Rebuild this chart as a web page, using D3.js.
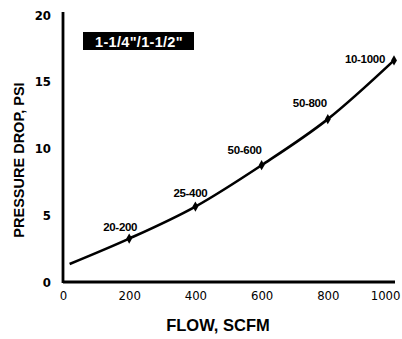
<!DOCTYPE html>
<html><head><meta charset="utf-8">
<script src="https://cdn.jsdelivr.net/npm/d3@7"></script>
<style>
html,body{margin:0;padding:0;background:#fff;}
svg{display:block;}
</style></head>
<body>
<svg id="chart" width="402" height="339"></svg>
<script>
const flow = [20, 200, 400, 600, 800, 1000];
const pressure = [1.35, 3.25, 5.65, 8.75, 12.2, 16.6];
const markerFlows = [200, 400, 600, 800, 1000];
const markerLabels = ["20-200", "25-400", "50-600", "50-800", "10-1000"];
const xTicks = [0, 200, 400, 600, 800, 1000];
const yTicks = [0, 5, 10, 15, 20];
const title = "1-1/4\"/1-1/2\"";
const xTitle = "FLOW, SCFM";
const yTitle = "PRESSURE DROP, PSI";

const svg = d3.select("#chart");
const x = d3.scaleLinear().domain([0, 1000]).range([63, 394]);
const y = d3.scaleLinear().domain([0, 20]).range([282, 15]);

const narrow = "'DejaVu Sans Condensed','DejaVu Sans',sans-serif";
const bold = "'Liberation Sans',Arial,sans-serif";

// axes
const xAxis = svg.append("g").attr("transform", "translate(0,282)")
  .call(d3.axisBottom(x).tickValues(xTicks).tickSize(0).tickPadding(9).tickFormat(d3.format("d")));
xAxis.select(".domain").attr("stroke", "#000").attr("stroke-width", 2.8)
  .attr("d", `M${x(0)},0H${x(1000)+1}`);
xAxis.selectAll("text").attr("font-family", narrow).attr("font-stretch", "condensed")
  .attr("font-size", 13).attr("fill", "#000");
xAxis.selectAll(".tick").filter(d => d === 1000).select("text")
  .attr("text-anchor", "end").attr("x", 400 - x(1000));

const yAxis = svg.append("g").attr("transform", "translate(63,0)")
  .call(d3.axisLeft(y).tickValues(yTicks).tickSize(0).tickPadding(12));
yAxis.select(".domain").attr("stroke", "#000").attr("stroke-width", 2.8)
  .attr("d", `M0,12V${y(0)+1}`);
yAxis.selectAll("text").attr("font-family", narrow).attr("font-stretch", "condensed")
  .attr("font-size", 13).attr("fill", "#000").attr("font-weight", "bold");

// curve
const pts = flow.map((f, i) => [f, pressure[i]]);
const line = d3.line().x(d => x(d[0])).y(d => y(d[1])).curve(d3.curveMonotoneX);
svg.append("path").datum(pts).attr("d", line).attr("fill", "none")
  .attr("stroke", "#000").attr("stroke-width", 2.6);

// markers
const markers = markerFlows.map((f, i) => ({f, v: pressure[flow.indexOf(f)], label: markerLabels[i]}));
svg.selectAll("path.mk").data(markers).join("path").attr("class", "mk")
  .attr("d", d3.symbol().type(d3.symbolDiamond).size(30))
  .attr("transform", d => `translate(${x(d.f)},${y(d.v)})`).attr("fill", "#000");

const labelOff = [[8, -8], [12, -10], [0, -11], [-1, -12], [-9, 3]];
svg.selectAll("text.lbl").data(markers).join("text").attr("class", "lbl")
  .attr("x", (d, i) => x(d.f) + labelOff[i][0]).attr("y", (d, i) => y(d.v) + labelOff[i][1])
  .attr("text-anchor", "end").attr("font-family", bold).attr("font-weight", "bold")
  .attr("font-size", 11.5).attr("fill", "#000").attr("letter-spacing", -0.3).text(d => d.label);

// title box
const tg = svg.append("g");
tg.append("rect").attr("x", 83).attr("y", 32).attr("width", 111).attr("height", 18).attr("fill", "#000");
tg.append("text").attr("x", 139).attr("y", 46.5).attr("text-anchor", "middle")
  .attr("font-family", bold).attr("font-weight", "bold").attr("font-size", 14.5)
  .attr("letter-spacing", 0.3).attr("fill", "#fff").text(title);

// axis titles
svg.append("text").attr("x", 218).attr("y", 331).attr("text-anchor", "middle")
  .attr("font-family", bold).attr("font-weight", "bold").attr("font-size", 16.5).text(xTitle);
svg.append("text").attr("transform", "translate(24,160) rotate(-90)").attr("text-anchor", "middle")
  .attr("font-family", bold).attr("font-weight", "bold").attr("font-size", 14.5).text(yTitle);
</script>
</body></html>
